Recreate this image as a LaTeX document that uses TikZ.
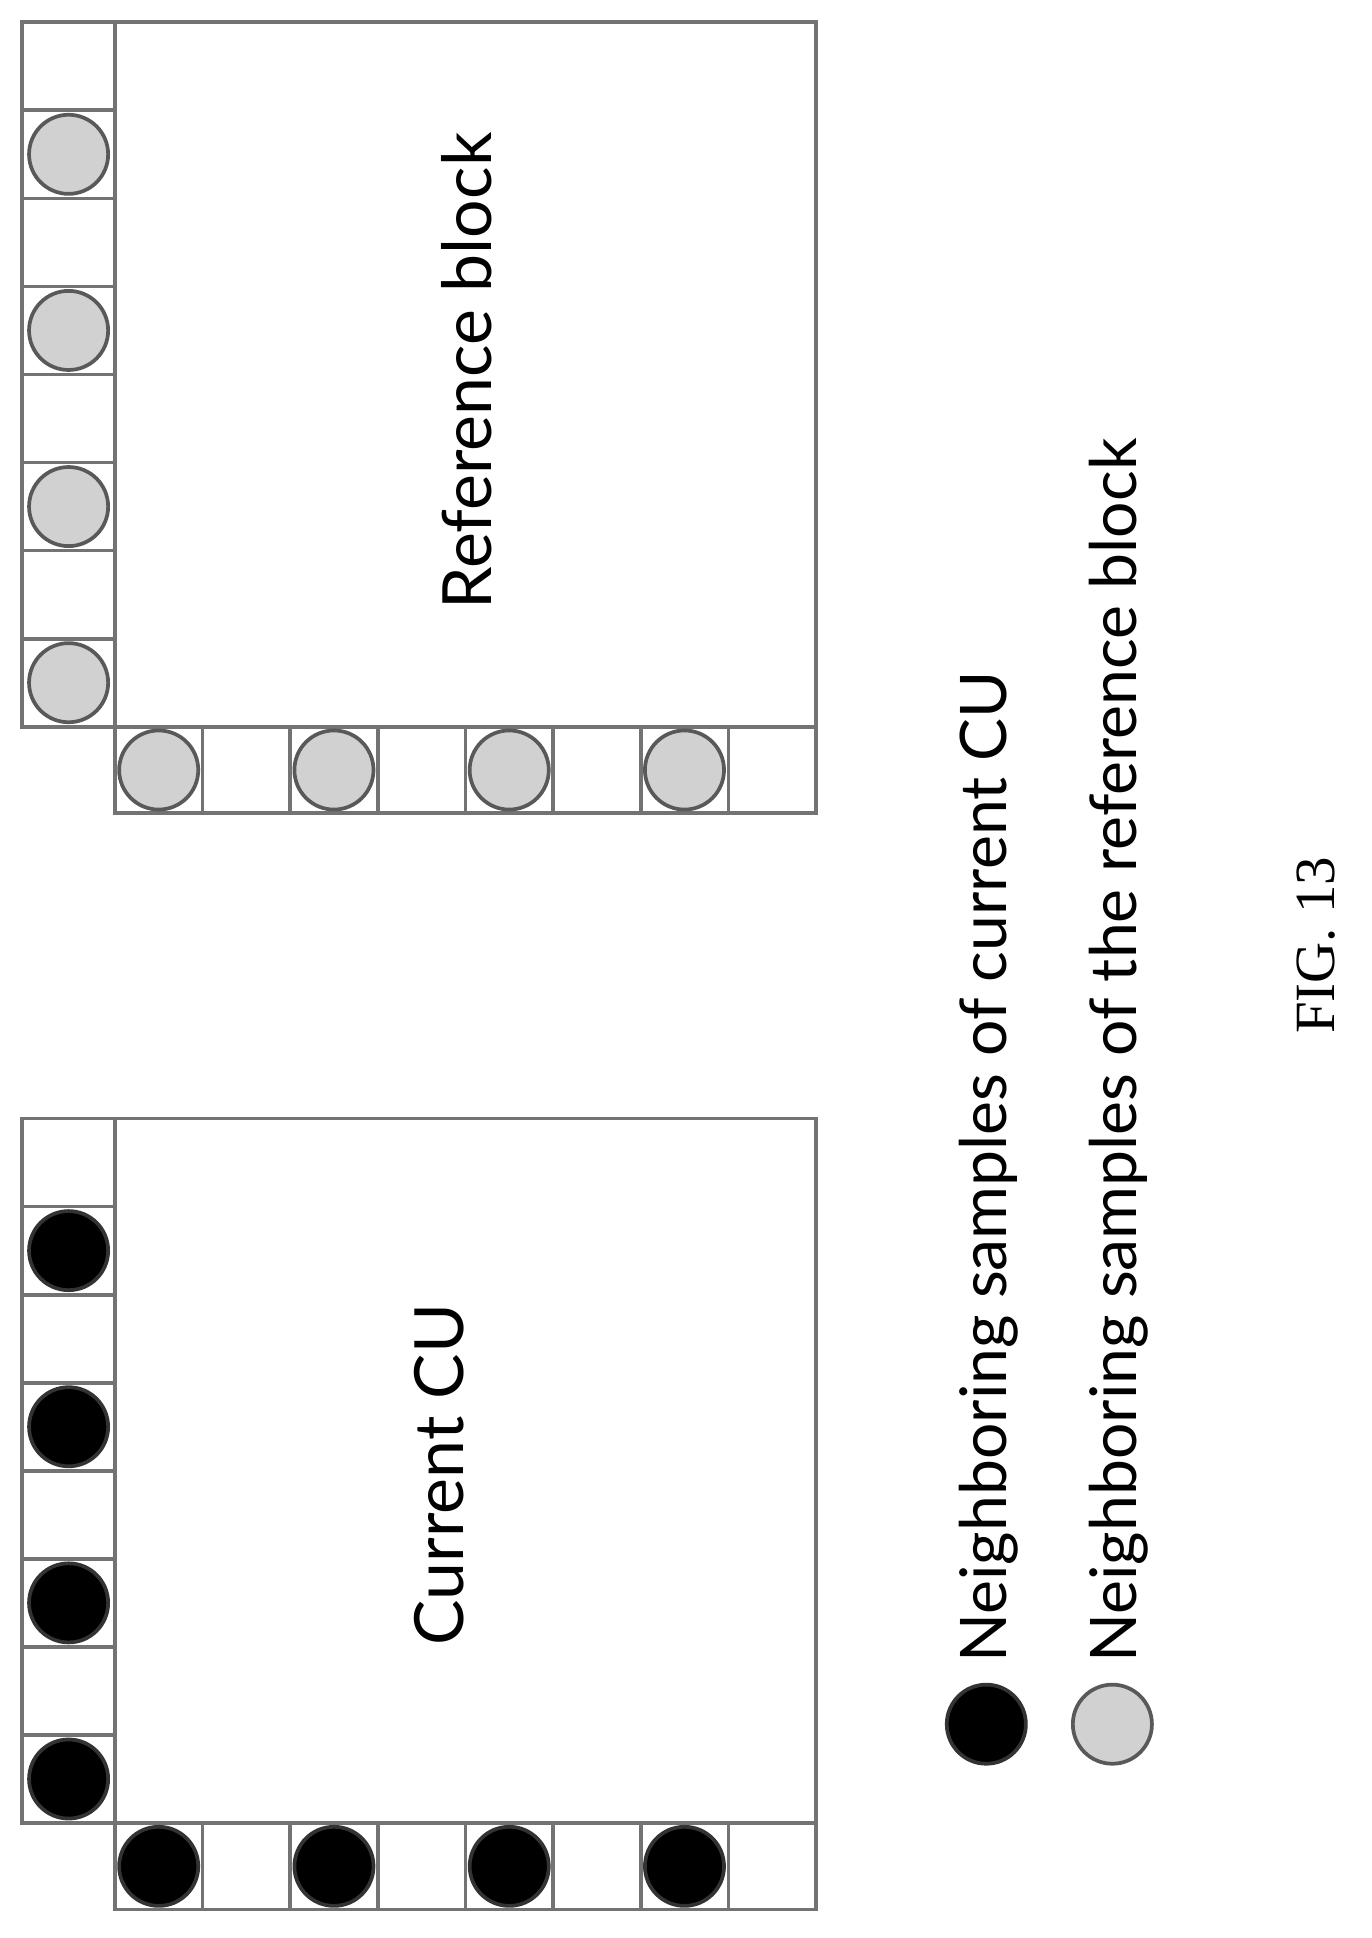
\documentclass[tikz,border=0pt]{standalone}
\usepackage{fontspec}
\setmainfont{Liberation Serif}
\setsansfont{Lato}
\begin{document}
\begin{tikzpicture}[x=1pt, y=-1pt, line width=3pt]
  \tikzstyle{cell}=[draw=black!55]
  \tikzstyle{cur}=[circle, fill=black, draw=black!80, minimum size=64pt, inner sep=0pt]
  \tikzstyle{refs}=[circle, fill=black!18, draw=black!65, minimum size=64pt, inner sep=0pt]
  \tikzstyle{lbl}=[rotate=90, font=\sffamily\fontsize{52}{56}\selectfont]
  \tikzstyle{blk}=[rotate=90, font=\sffamily\fontsize{55}{60}\selectfont]

  \useasboundingbox (0,0) rectangle (1110,1568);

  % reference block (top) and current CU (bottom)
  \foreach \top/\sty in {18/refs, 905/cur} {
    \draw[cell] (93,\top) rectangle (660,\top+570);
    \foreach \i in {0,...,7} {
      \draw[cell] (18,\top+\i*71.25) rectangle (93,\top+\i*71.25+71.25);
      \draw[cell] (93+\i*70.9,\top+570) rectangle (93+\i*70.9+70.9,\top+640);
    }
    \foreach \i in {1,3,5,7}
      \node[\sty] at (55.5,\top+\i*71.25+35.6) {};
    \foreach \i in {0,2,4,6}
      \node[\sty] at (93+\i*70.9+35.4,\top+605) {};
  }

  \node[blk] (refblk) at (378,300) {Reference block};
  \node[blk] (curcu) at (355,1193) {Current CU};

  % legend
  \node[cur] (lgcur) at (798,1395) {};
  \node[refs] (lgref) at (900,1395) {};
  \node[lbl, anchor=west] (txcur) at (800,1350) {Neighboring samples of current CU};
  \node[lbl, anchor=west] (txref) at (905,1350) {Neighboring samples of the reference block};

  \node[rotate=90, font=\fontsize{46}{50}\selectfont] (fig) at (1065,765) {FIG. 13};
\end{tikzpicture}
\end{document}
